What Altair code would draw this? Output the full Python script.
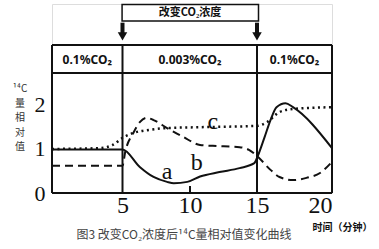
import altair as alt
import pandas as pd

# ---- data ----
a_x = [0, 5, 6.3, 7.3, 8.3, 8.8, 9.8, 10.75, 12.2, 13.7, 14.8, 15.0, 15.5, 15.9, 16.3, 16.9, 17.4, 20]
a_y = [0.98, 0.98, 0.58, 0.36, 0.25, 0.22, 0.25, 0.37, 0.47, 0.56, 0.67, 0.79, 1.25, 1.64, 1.93, 2.02, 1.93, 1.01]

b_x = [0, 5, 5.2, 5.8, 6.3, 6.8, 7.3, 8.3, 9.5, 10.75, 11.7, 13.7, 14.4, 15.07, 15.9, 16.5, 17.4, 18.3, 19.2, 20]
b_y = [0.61, 0.61, 0.92, 1.35, 1.6, 1.69, 1.64, 1.46, 1.26, 1.08, 1.06, 1.03, 0.97, 0.81, 0.52, 0.36, 0.29, 0.34, 0.45, 0.70]

c_x = [0, 3.4, 4.3, 5, 5.8, 7.0, 8.3, 10.75, 15, 15.7, 16.5, 17.4, 20]
c_y = [0.99, 1.01, 1.08, 1.24, 1.35, 1.42, 1.46, 1.48, 1.51, 1.60, 1.82, 1.89, 1.93]

curve_labels = ["a", "b", "c"]
label_x = [8.3, 10.5, 11.7]
label_y = [0.47, 0.67, 1.6]

phase_labels = ["0.1%CO\u2082", "0.003%CO\u2082", "0.1%CO\u2082"]
phase_x = [2.5, 10, 17.5]
phase_y = [2.99, 2.99, 2.99]

x_ticks = [5, 10, 15, 20]
y_ticks = [0, 1, 2]

change_text = "改变CO\u2082浓度"
caption = "图3  改变CO\u2082浓度后\u00b9\u2074C量相对值变化曲线"
x_title = "时间（分钟）"
y_title_chars = ["\u00b9\u2074C", "量", "相", "对", "值"]
y_title_rows = [0, 1, 2, 3, 4]

# ---- tables ----
curves = pd.concat([
    pd.DataFrame({"t": a_x, "v": a_y, "s": "a", "o": range(len(a_x))}),
    pd.DataFrame({"t": b_x, "v": b_y, "s": "b", "o": range(len(b_x))}),
    pd.DataFrame({"t": c_x, "v": c_y, "s": "c", "o": range(len(c_x))}),
])
labels_df = pd.DataFrame({"t": label_x, "v": label_y, "txt": curve_labels})
phase_df = pd.DataFrame({"t": phase_x, "v": phase_y, "txt": phase_labels})
ytitle_df = pd.DataFrame({"row": y_title_rows, "txt": y_title_chars})

TOP_BOX = 3.33
HEADER = 2.70
frame_df = pd.DataFrame({
    "x": [0, 20, 0, 0, 0, 5, 15, 10],
    "x2": [0, 20, 20, 20, 20, 5, 15, 10],
    "y": [0, 0, 0, TOP_BOX, HEADER, 0, 0, 0],
    "y2": [TOP_BOX, TOP_BOX, 0, TOP_BOX, HEADER, TOP_BOX, TOP_BOX, 0.16],
})
arrow_df = pd.DataFrame({"x": [5, 15], "y": [3.83, 3.83], "y2": [3.58, 3.58], "yp": [3.52, 3.52]})
box_df = pd.DataFrame({"x": [4.97], "x2": [15.1], "y": [3.87], "y2": [4.24]})
box_text_df = pd.DataFrame({"x": [10.0], "y": [4.05], "txt": [change_text]})

SERIF = "Liberation Serif"
INK = "#111111"

xscale = alt.Scale(domain=[0, 5, 10, 15, 20], range=[0, 70.5, 138, 205, 280])
yscale = alt.Scale(domain=[0, 4.25], nice=False, zero=False)
xaxis = alt.Axis(values=x_ticks, domain=False, ticks=False, grid=False,
                 labelFont=SERIF, labelFontSize=24, labelColor=INK, labelPadding=0,
                 title=x_title, titleFont="Noto Sans CJK SC", titleFontSize=10,
                 titleFontWeight="bold", titleColor=INK, titleX=290, titleY=34,
                 titleAlign="center", titleBaseline="middle")
yaxis = alt.Axis(values=y_ticks, domain=False, ticks=False, grid=False,
                 labelFont=SERIF, labelFontSize=22, labelColor=INK, labelPadding=7,
                 title=None)


def X(f):
    return alt.X(f, type="quantitative", scale=xscale, axis=xaxis)


def Y(f):
    return alt.Y(f, type="quantitative", scale=yscale, axis=yaxis)


base = alt.Chart(curves)

line_a = base.transform_filter(alt.datum.s == "a").mark_line(
    color=INK, strokeWidth=2, interpolate="monotone").encode(x=X("t"), y=Y("v"), order="o:Q")
line_b = base.transform_filter(alt.datum.s == "b").mark_line(
    color=INK, strokeWidth=2, strokeDash=[8, 5], interpolate="monotone").encode(x=X("t"), y=Y("v"), order="o:Q")
line_c = base.transform_filter(alt.datum.s == "c").mark_line(
    color=INK, strokeWidth=2.5, strokeDash=[2, 3.5], interpolate="monotone").encode(x=X("t"), y=Y("v"), order="o:Q")

frame = alt.Chart(frame_df).mark_rule(color=INK, strokeWidth=2).encode(
    x=X("x"), x2="x2", y=Y("y"), y2="y2")

arrows = alt.Chart(arrow_df).mark_rule(color=INK, strokeWidth=4).encode(
    x=X("x"), y=Y("y"), y2="y2")
heads = alt.Chart(arrow_df).mark_point(shape="triangle-down", filled=True, color=INK,
                                        size=90, opacity=1).encode(x=X("x"), y=Y("yp"))

box = alt.Chart(box_df).mark_rect(fill="white", stroke=INK, strokeWidth=1.5).encode(
    x=X("x"), x2="x2", y=Y("y"), y2="y2")
box_text = alt.Chart(box_text_df).mark_text(font="Noto Sans CJK SC", fontSize=11,
                                            fontWeight="bold", color=INK).encode(
    x=X("x"), y=Y("y"), text="txt")

phase_text = alt.Chart(phase_df).mark_text(font="Noto Sans", fontSize=12,
                                           fontWeight="bold", color=INK).encode(
    x=X("t"), y=Y("v"), text="txt")

curve_text = alt.Chart(labels_df).mark_text(font=SERIF, fontSize=24, color=INK).encode(
    x=X("t"), y=Y("v"), text="txt")

# vertical y-axis title, one character per row
ytitle = alt.Chart(ytitle_df).transform_calculate(
    py="85 + datum.row * 14.5"
).mark_text(font="Noto Sans CJK SC", fontSize=10, color="#333333", baseline="middle").encode(
    x=alt.value(-32), y=alt.Y("py:Q", scale=None), text="txt")

cap = alt.Chart(pd.DataFrame({"txt": [caption]})).mark_text(
    font="Noto Sans CJK SC", fontSize=12, color="#444444").encode(
    x=alt.value(132), y=alt.value(231), text="txt")

chart = alt.layer(frame, line_a, line_b, line_c, arrows, heads, box, box_text,
                  phase_text, curve_text, ytitle, cap).properties(
    width=280, height=189,
    autosize=alt.AutoSizeParams(type="none"),
    padding={"left": 52, "top": 4, "right": 47, "bottom": 56},
).configure_view(stroke=None).configure(background="white")

chart.save("out.html", embed_options={"renderer": "svg", "actions": False})
